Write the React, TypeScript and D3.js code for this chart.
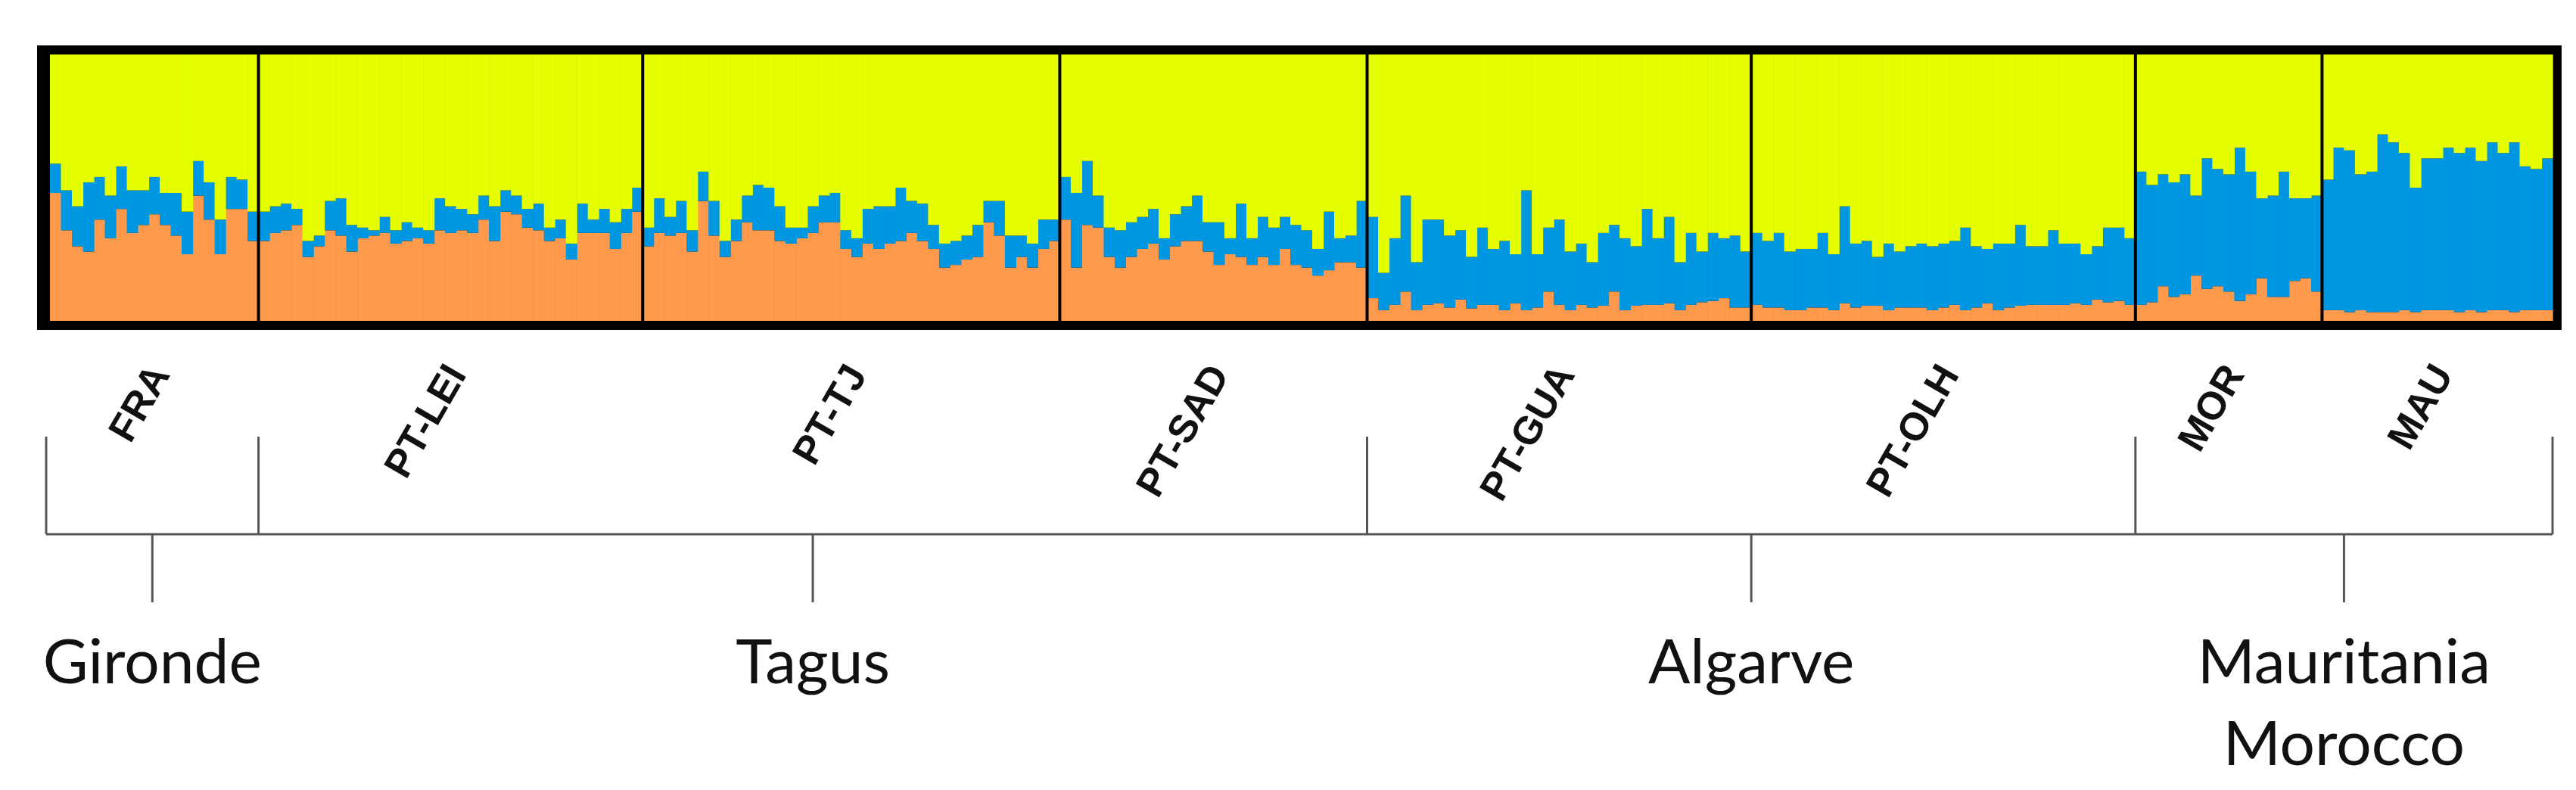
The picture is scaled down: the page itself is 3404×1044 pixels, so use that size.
import * as React from 'react';
import * as d3 from 'd3';

// population labels, left to right
const populations = ['FRA', 'PT-LEI', 'PT-TJ', 'PT-SAD', 'PT-GUA', 'PT-OLH', 'MOR', 'MAU'];

// ancestry per individual: orange cluster and blue cluster, yellow is what is left
const orangeFRA = [.48, .34, .28, .26, .38, .31, .42, .33, .36, .40, .36, .32, .25, .47, .38, .25, .42, .42, .30];
const blueFRA = [.11, .15, .15, .26, .16, .16, .16, .16, .13, .14, .12, .16, .16, .13, .14, .13, .12, .11, .11];

const orangeLEI = [.30, .33, .34, .36, .24, .28, .34, .32, .26, .31, .32, .33, .29, .30, .31, .29, .34, .33, .34, .33,
  .38, .30, .41, .40, .35, .34, .30, .31, .23, .33, .33, .33, .27, .33, .41];
const blueLEI = [.11, .10, .10, .06, .06, .04, .11, .14, .10, .04, .02, .06, .05, .07, .04, .05, .12, .10, .08, .07,
  .09, .13, .08, .07, .07, .10, .05, .07, .06, .11, .05, .09, .10, .09, .09];

const orangeTJ = [.28, .33, .32, .33, .26, .45, .32, .24, .30, .37, .34, .34, .30, .29, .31, .33, .37, .37, .27, .24,
  .29, .27, .29, .30, .33, .30, .27, .20, .21, .23, .24, .37, .32, .20, .24, .20, .27, .30];
const blueTJ = [.07, .13, .07, .12, .08, .11, .13, .06, .08, .10, .17, .16, .13, .06, .04, .10, .10, .11, .07, .07,
  .13, .16, .14, .20, .12, .14, .09, .09, .09, .09, .12, .08, .13, .12, .08, .09, .11, .08];

const orangeSAD = [.38, .20, .36, .35, .24, .20, .24, .27, .29, .23, .28, .30, .30, .26, .21, .25, .24, .21, .24, .21,
  .27, .21, .20, .17, .19, .22, .22, .20];
const blueSAD = [.16, .28, .24, .12, .11, .14, .13, .12, .13, .08, .12, .13, .17, .11, .16, .06, .20, .10, .15, .14,
  .12, .15, .14, .10, .22, .09, .10, .25];

const orangeGUA = [.085, .04, .06, .11, .04, .06, .066, .05, .08, .047, .06, .06, .04, .066, .04, .05, .11, .06, .04, .06,
  .05, .057, .11, .04, .057, .06, .06, .066, .04, .06, .07, .075, .085, .05, .05];
const blueGUA = [.305, .14, .25, .36, .18, .32, .314, .27, .26, .193, .29, .21, .26, .184, .45, .20, .24, .32, .22, .23,
  .17, .273, .25, .27, .223, .36, .25, .324, .18, .27, .19, .255, .225, .27, .21];

const orangeOLH = [.06, .05, .05, .04, .04, .05, .05, .04, .066, .05, .057, .057, .04, .05, .05, .05, .04, .05, .06, .04,
  .05, .066, .04, .05, .057, .06, .06, .06, .06, .066, .06, .08, .07, .075, .06];
const blueOLH = [.27, .25, .28, .22, .23, .22, .28, .21, .364, .24, .243, .183, .25, .21, .23, .24, .24, .24, .24, .31,
  .23, .204, .25, .24, .303, .22, .22, .28, .23, .224, .19, .20, .28, .275, .25];

const orangeMOR = [.06, .07, .13, .09, .10, .17, .12, .13, .11, .075, .10, .16, .09, .09, .15, .16, .11];
const blueMOR = [.50, .44, .42, .43, .45, .30, .49, .44, .44, .575, .46, .30, .38, .47, .31, .30, .36];

const orangeMAU = [.04, .04, .033, .04, .033, .033, .033, .04, .033, .04, .04, .04, .033, .04, .033, .04, .04, .033, .04, .04, .04];
const blueMAU = [.49, .61, .607, .51, .527, .667, .637, .59, .467, .57, .57, .61, .597, .61, .567, .63, .59, .637, .54, .53, .57];

const orangeByPop = [orangeFRA, orangeLEI, orangeTJ, orangeSAD, orangeGUA, orangeOLH, orangeMOR, orangeMAU];
const blueByPop = [blueFRA, blueLEI, blueTJ, blueSAD, blueGUA, blueOLH, blueMOR, blueMAU];

// regions grouping the populations
const regionNames = [['Gironde'], ['Tagus'], ['Algarve'], ['Mauritania', 'Morocco']];
const regionPops = [['FRA'], ['PT-LEI', 'PT-TJ', 'PT-SAD'], ['PT-GUA', 'PT-OLH'], ['MOR', 'MAU']];

const clusters = ['orange', 'blue', 'yellow'];
const clusterColors = ['#ff9a4c', '#0097e2', '#e5ff00'];

export default function App() {
  const ref = React.useRef<SVGSVGElement>(null);

  React.useEffect(() => {
    const svg = d3.select(ref.current);
    svg.selectAll('*').remove();

    const plot = {left: 66, right: 3373, top: 72, bottom: 424};

    const individuals: any[] = [];
    populations.forEach((pop, p) => {
      orangeByPop[p].forEach((o, i) => {
        const b = blueByPop[p][i];
        individuals.push({id: `${pop}-${i}`, pop, orange: o, blue: b, yellow: 1 - o - b});
      });
    });

    const x = d3.scaleBand().domain(individuals.map(d => d.id)).range([plot.left, plot.right]).padding(0);
    const y = d3.scaleLinear().domain([0, 1]).range([plot.bottom, plot.top]);
    const color = d3.scaleOrdinal<string, string>().domain(clusters).range(clusterColors);

    const firstOf = (pop: string) => x(`${pop}-0`) as number;
    const lastEnd = (pop: string) => {
      const n = orangeByPop[populations.indexOf(pop)].length;
      return (x(`${pop}-${n - 1}`) as number) + x.bandwidth();
    };

    // black frame
    svg.append('rect')
      .attr('x', 49).attr('y', 60)
      .attr('width', 3385 - 49).attr('height', 436 - 60)
      .attr('fill', '#000');

    const stack = d3.stack<any>().keys(clusters);
    svg.append('g').selectAll('g').data(stack(individuals))
      .join('g').attr('fill', d => color(d.key))
      .selectAll('rect').data(d => d)
      .join('rect')
      .attr('x', d => x(d.data.id) as number)
      .attr('y', d => y(d[1]))
      .attr('width', x.bandwidth() + 0.6)
      .attr('height', d => y(d[0]) - y(d[1]));

    // population separators
    svg.append('g').selectAll('line').data(populations.slice(1))
      .join('line')
      .attr('x1', d => firstOf(d)).attr('x2', d => firstOf(d))
      .attr('y1', plot.top).attr('y2', plot.bottom)
      .attr('stroke', '#000').attr('stroke-width', 4);

    // rotated population labels
    svg.append('g').selectAll('text').data(populations)
      .join('text')
      .attr('transform', d => {
        const cx = (firstOf(d) + lastEnd(d)) / 2 + 22;
        return `translate(${cx},495) rotate(-60)`;
      })
      .attr('text-anchor', 'end')
      .attr('font-family', 'Liberation Sans, Arial, sans-serif')
      .attr('font-weight', 'bold')
      .attr('font-size', 52)
      .attr('fill', '#111')
      .text(d => d);

    // region bracket
    const lineY = 706;
    const edges = regionPops.map(r => firstOf(r[0]));
    edges[0] = plot.left - 5;
    edges.push(plot.right);
    const br = svg.append('g').attr('stroke', '#555').attr('stroke-width', 3).attr('fill', 'none');
    br.append('line').attr('x1', edges[0]).attr('x2', edges[edges.length - 1]).attr('y1', lineY).attr('y2', lineY);
    br.selectAll('line.up').data(edges).join('line').attr('class', 'up')
      .attr('x1', d => d).attr('x2', d => d).attr('y1', 577).attr('y2', lineY);
    const mids = regionPops.map((r, i) => (edges[i] + edges[i + 1]) / 2);
    br.selectAll('line.down').data(mids).join('line').attr('class', 'down')
      .attr('x1', d => d).attr('x2', d => d).attr('y1', lineY).attr('y2', 796);

    const rl = svg.append('g').selectAll('text').data(regionNames)
      .join('text')
      .attr('text-anchor', 'middle')
      .attr('font-family', 'Lato, sans-serif')
      .attr('font-size', 82)
      .attr('fill', '#111');
    rl.selectAll('tspan').data((d, i) => d.map(t => ({t, cx: mids[i]})))
      .join('tspan')
      .attr('x', d => d.cx)
      .attr('y', (d, j) => 903 + j * 108)
      .text(d => d.t);
  }, []);

  return (
    <svg ref={ref} width={3404} height={1044}
      style={{position: 'absolute', left: 0, top: 0, background: '#fff'}} />
  );
}
